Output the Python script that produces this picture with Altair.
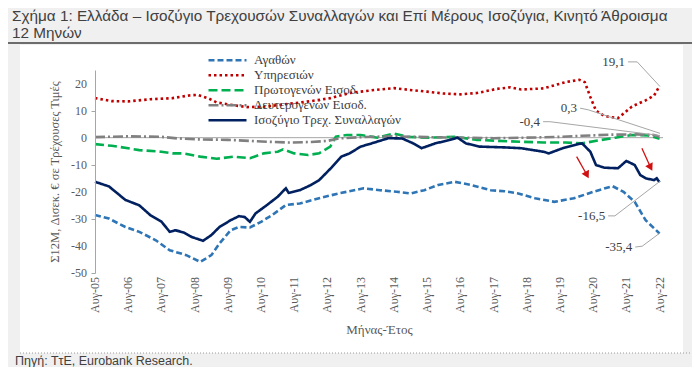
import altair as alt
import pandas as pd

# ---------------- data ----------------
SERIES = ["Αγαθών", "Υπηρεσιών", "Πρωτογενών Εισοδ.", "Δευτερογενών Εισοδ.", "Ισοζύγιο Τρεχ. Συναλλαγών"]
COLORS = ["#2e75b6", "#c00000", "#00b050", "#808080", "#002060"]
DASHES = [[6, 3], [2.5, 3], [9, 4], [10, 3, 2, 3], [1, 0]]

goods_dates = ["2005-08", "2006-01", "2006-07", "2006-12", "2007-06", "2007-11", "2008-05", "2008-10",
               "2009-02", "2009-05", "2009-09", "2009-12", "2010-04", "2010-08", "2010-12", "2011-05",
               "2011-10", "2012-05", "2012-12", "2013-03", "2013-09", "2014-03", "2014-09", "2015-02",
               "2015-07", "2015-12", "2016-06", "2016-12", "2017-07", "2017-12", "2018-05", "2018-11",
               "2019-06", "2020-01", "2020-08", "2021-03", "2021-07", "2021-11", "2022-03", "2022-08"]
goods_vals = [-28.6, -29.9, -33.0, -34.8, -37.9, -41.6, -43.4, -45.9,
              -43.4, -39.1, -34.2, -33.0, -33.2, -31.1, -28.6, -24.9,
              -24.3, -22.4, -20.6, -20.0, -18.7, -19.4, -20.0, -20.6,
              -19.4, -17.5, -16.3, -17.5, -19.4, -19.8, -20.6, -22.4,
              -23.7, -22.4, -20.0, -17.9, -20.0, -23.7, -30.5, -35.4]

serv_dates = ["2005-08", "2006-02", "2006-08", "2007-04", "2007-12", "2008-06", "2008-09", "2009-01",
              "2009-04", "2009-10", "2010-03", "2010-10", "2011-06", "2012-02", "2012-09", "2013-04",
              "2013-12", "2014-08", "2015-03", "2015-08", "2016-02", "2016-08", "2017-02", "2017-09",
              "2018-02", "2018-06", "2019-02", "2019-10", "2020-03", "2020-05", "2020-07", "2020-09",
              "2020-12", "2021-05", "2021-10", "2022-03", "2022-06", "2022-08"]
serv_vals = [14.6, 13.5, 13.4, 14.2, 14.6, 15.6, 15.8, 14.5,
             13.0, 12.0, 11.3, 11.5, 12.5, 13.5, 14.6, 16.5,
             17.5, 18.3, 17.5, 17.0, 16.3, 16.0, 16.5, 18.0,
             18.6, 17.8, 18.2, 20.5, 21.4, 20.5, 15.0, 10.0,
             8.0, 7.2, 11.5, 13.8, 15.5, 19.1]

prim_dates = ["2005-08", "2006-02", "2006-08", "2006-12", "2007-08", "2007-12", "2008-04", "2008-10",
              "2009-04", "2009-10", "2010-04", "2010-09", "2011-02", "2011-04", "2011-08", "2012-01",
              "2012-05", "2012-09", "2012-11", "2013-03", "2013-08", "2014-02", "2014-08", "2015-01",
              "2015-08", "2016-06", "2017-02", "2017-10", "2018-06", "2019-02", "2019-10", "2020-04",
              "2020-10", "2021-04", "2021-10", "2022-04", "2022-08"]
prim_vals = [-2.4, -3.0, -3.9, -4.6, -5.2, -5.8, -5.8, -7.0,
             -7.8, -7.0, -7.6, -5.8, -5.2, -4.3, -5.8, -6.4,
             -5.8, -3.3, 0.4, 1.0, 1.0, 0.0, 1.5, 0.3,
             0.0, 0.3, -0.8, -1.2, -1.5, -1.8, -1.8, -2.1,
             -1.0, 0.0, 1.0, 0.8, -0.4]

sec_dates = ["2005-08", "2006-08", "2007-08", "2008-02", "2008-08", "2009-08", "2010-04", "2010-10",
             "2011-06", "2012-02", "2012-08", "2012-12", "2013-08", "2014-08", "2015-08", "2016-08",
             "2017-08", "2018-08", "2019-08", "2020-04", "2021-02", "2021-12", "2022-06", "2022-08"]
sec_vals = [0.2, 0.5, 0.3, -0.3, -0.6, -0.8, -1.2, -1.5,
            -1.8, -1.6, -1.2, -0.3, 0.2, 0.5, 0.2, 0.0,
            -0.2, 0.0, 0.3, 0.7, 1.1, 1.2, 1.0, 0.3]

ca_dates = ["2005-08", "2006-01", "2006-07", "2006-12", "2007-04", "2007-08", "2007-11", "2008-01",
            "2008-04", "2008-07", "2008-11", "2009-02", "2009-05", "2009-09", "2009-12", "2010-02",
            "2010-04", "2010-06", "2010-10", "2011-02", "2011-05", "2011-06", "2011-10", "2012-02",
            "2012-05", "2012-09", "2013-01", "2013-04", "2013-08", "2013-12", "2014-06", "2014-11",
            "2015-03", "2015-06", "2015-11", "2016-04", "2016-07", "2016-10", "2017-03", "2017-12",
            "2018-06", "2019-02", "2019-04", "2019-09", "2020-02", "2020-04", "2020-07", "2020-09",
            "2020-12", "2021-05", "2021-08", "2021-11", "2022-01", "2022-03", "2022-06", "2022-07",
            "2022-08"]
ca_vals = [-16.3, -18.0, -23.0, -25.0, -28.6, -31.0, -34.8, -34.2,
           -35.0, -36.7, -38.1, -36.0, -33.0, -30.5, -29.0, -29.3,
           -31.1, -28.0, -25.0, -21.8, -18.7, -20.4, -19.4, -17.5,
           -15.7, -11.5, -7.0, -5.8, -3.3, -2.1, -0.2, -0.3,
           -2.1, -3.9, -2.1, -0.9, 0.0, -2.1, -3.3, -3.6,
           -3.9, -5.2, -5.8, -3.9, -2.5, -2.1, -5.2, -10.1,
           -11.1, -11.3, -8.6, -10.1, -13.8, -15.0, -15.7, -15.0,
           -16.5]

TICK_DATES = ["%d-08-01" % y for y in range(2005, 2023)]
TICK_LABELS = ["Αυγ-%02d" % (y % 100) for y in range(2005, 2023)]
Y_TICKS = [-50, -40, -30, -20, -10, 0, 10, 20]

# end-of-series value labels and their leader lines
ANN_TEXT = ["19,1", "0,3", "-0,4", "-16,5", "-35,4"]
ANN_DATE = ["2021-08-19", "2020-03-10", "2019-01-28", "2021-01-13", "2021-11-07"]
ANN_VAL = [28.0, 10.9, 5.9, -28.9, -40.4]
LEADER_DATES = [["2021-08-19", "2021-11-28", "2022-08-06"],
                ["2020-03-10", "2020-06-07", "2022-08-06"],
                ["2019-01-28", "2019-04-13", "2022-08-06"],
                ["2021-01-13", "2021-03-28", "2022-08-06"],
                ["2021-11-07", "2022-01-22", "2022-08-06"]]
LEADER_VALS = [[28.0, 28.0, 18.9],
               [10.9, 10.3, 1.6],
               [5.9, 5.9, 0.8],
               [-28.9, -28.9, -16.1],
               [-40.4, -40.1, -35.2]]

# red arrows (tail -> head)
ARROW_START_DATE = ["2020-02-01", "2022-01-19"]
ARROW_START_VAL = [-7.0, -3.9]
ARROW_END_DATE = ["2020-05-25", "2022-04-25"]
ARROW_END_VAL = [-13.8, -11.0]

TITLE_LINES = ["Σχήμα 1: Ελλάδα – Ισοζύγιο Τρεχουσών Συναλλαγών και Επί Μέρους Ισοζύγια, Κινητό Άθροισμα",
               "12 Μηνών"]
SOURCE = "Πηγή: ΤτΕ, Eurobank Research."
Y_TITLE = "Σ12M, Δισεκ. € σε Τρέχουσες Τιμές"
X_TITLE = "Μήνας-Έτος"

# ---------------- tables ----------------
rows = []
for name, ds, vs in zip(SERIES, [goods_dates, serv_dates, prim_dates, sec_dates, ca_dates],
                        [goods_vals, serv_vals, prim_vals, sec_vals, ca_vals]):
    for d, v in zip(ds, vs):
        rows.append({"series": name, "date": d + "-01", "value": v})
df = pd.DataFrame(rows)

lead_rows = []
for i, (ds, vs) in enumerate(zip(LEADER_DATES, LEADER_VALS)):
    for k, (d, v) in enumerate(zip(ds, vs)):
        lead_rows.append({"id": i, "k": k, "date": d, "value": v})
lead_df = pd.DataFrame(lead_rows)

ann_df = pd.DataFrame({"text": ANN_TEXT, "date": ANN_DATE, "value": ANN_VAL})
arrow_df = pd.DataFrame({"d1": ARROW_START_DATE, "v1": ARROW_START_VAL,
                         "d2": ARROW_END_DATE, "v2": ARROW_END_VAL})
xtick_df = pd.DataFrame({"date": TICK_DATES, "label": TICK_LABELS})
ytick_df = pd.DataFrame({"value": Y_TICKS, "label": [str(v) for v in Y_TICKS]})

W, H = 568, 203
SERIF = "Liberation Serif"
SANS = "Liberation Sans"
LABEL_GREY = "#595959"

x_scale = alt.Scale(type="utc", domain=[alt.DateTime(year=2005, month=8, date=1, utc=True),
                                        alt.DateTime(year=2022, month=9, date=8, utc=True)])
y_scale = alt.Scale(domain=[-50, 25], nice=False)

one = pd.DataFrame({"a": [0]})

panel = alt.Chart(one).mark_rect(color="white").encode(
    x=alt.value(-75), x2=alt.value(588), y=alt.value(-25), y2=alt.value(283))

title_rule = alt.Chart(one).mark_rule(color="#404040", strokeWidth=1.5).encode(
    x=alt.value(-87), x2=alt.value(597), y=alt.value(-27))
dotted_rule = alt.Chart(one).mark_rule(color="#9a9a9a", strokeWidth=1, strokeDash=[1, 2]).encode(
    x=alt.value(-75), x2=alt.value(597), y=alt.value(283))

zero = alt.Chart(pd.DataFrame({"y": [0]})).mark_rule(color="#a6a6a6", strokeWidth=1).encode(
    y=alt.Y("y:Q", scale=y_scale))

lines = alt.Chart(df).mark_line(strokeWidth=2.6).encode(
    x=alt.X("date:T", scale=x_scale, title=X_TITLE,
            axis=alt.Axis(labels=False, ticks=False, domain=False, grid=False,
                          titleFont=SERIF, titleFontSize=13, titleColor=LABEL_GREY,
                          titleFontWeight="normal", titlePadding=50, zindex=1)),
    y=alt.Y("value:Q", scale=y_scale, title=Y_TITLE,
            axis=alt.Axis(values=Y_TICKS, labels=False, grid=False,
                          domainColor="#a6a6a6", tickColor="#a6a6a6", tickSize=4,
                          titleFont=SERIF, titleFontSize=12.5, titleColor=LABEL_GREY,
                          titleFontWeight="normal", titlePadding=29, zindex=1)),
    color=alt.Color("series:N", scale=alt.Scale(domain=SERIES, range=COLORS),
                    legend=alt.Legend(title=None, orient="none", legendX=112, legendY=-17,
                                      symbolType="stroke", symbolSize=1444, symbolStrokeWidth=2.6,
                                      labelFont=SERIF, labelFontSize=13, labelColor="#404040",
                                      labelOffset=6, rowPadding=0, clipHeight=14.6, padding=0,
                                      zindex=1)),
    strokeDash=alt.StrokeDash("series:N", scale=alt.Scale(domain=SERIES, range=DASHES)),
    detail="series:N",
    order=alt.Order("date:T"),
)

# axis tick labels placed through the scales
xlabels = alt.Chart(xtick_df).mark_text(font=SERIF, fontSize=12, color=LABEL_GREY, angle=270,
                                        align="right", baseline="middle").encode(
    x=alt.X("date:T", scale=x_scale), y=alt.value(H + 4), text="label:N")
ylabels = alt.Chart(ytick_df).mark_text(font=SERIF, fontSize=12, color=LABEL_GREY,
                                        align="right", baseline="middle").encode(
    x=alt.value(-8), y=alt.Y("value:Q", scale=y_scale), text="label:N")

leaders = alt.Chart(lead_df).mark_line(color="#a6a6a6", strokeWidth=1).encode(
    x=alt.X("date:T", scale=x_scale), y=alt.Y("value:Q", scale=y_scale),
    detail="id:N", order="k:Q")

ann = alt.Chart(ann_df).mark_text(font=SERIF, fontSize=13, color="#404040", align="right",
                                  baseline="middle", dx=-3).encode(
    x=alt.X("date:T", scale=x_scale), y=alt.Y("value:Q", scale=y_scale), text="text:N")

arrow_line = alt.Chart(arrow_df).mark_rule(color="#d01010", strokeWidth=1.3).encode(
    x=alt.X("d1:T", scale=x_scale), y=alt.Y("v1:Q", scale=y_scale), x2="d2:T", y2="v2:Q")
arrow_head = alt.Chart(arrow_df).mark_point(shape="triangle-up", filled=True, color="#d01010",
                                            size=70, angle=152, opacity=1).encode(
    x=alt.X("d2:T", scale=x_scale), y=alt.Y("v2:Q", scale=y_scale))

title1 = alt.Chart(pd.DataFrame({"t": [TITLE_LINES[0]]})).mark_text(
    font=SANS, fontSize=15.3, color="#404040", align="left", baseline="alphabetic").encode(
    x=alt.value(-83), y=alt.value(-49), text="t:N")
title2 = alt.Chart(pd.DataFrame({"t": [TITLE_LINES[1]]})).mark_text(
    font=SANS, fontSize=15.3, color="#404040", align="left", baseline="alphabetic").encode(
    x=alt.value(-83), y=alt.value(-32), text="t:N")
source = alt.Chart(pd.DataFrame({"t": [SOURCE]})).mark_text(
    font=SANS, fontSize=12.5, color="#404040", align="left", baseline="alphabetic").encode(
    x=alt.value(-80), y=alt.value(295), text="t:N")

chart = alt.layer(panel, title_rule, dotted_rule, zero, lines, xlabels, ylabels, leaders, ann,
                  arrow_line, arrow_head, title1, title2, source).properties(
    width=W, height=H,
    autosize=alt.AutoSizeParams(type="none"),
    padding={"left": 87, "top": 62, "right": 29, "bottom": 94},
    background="#f0f0f0",
).configure_view(stroke=None)

chart.save("out.html", embed_options={"renderer": "svg", "actions": False})
